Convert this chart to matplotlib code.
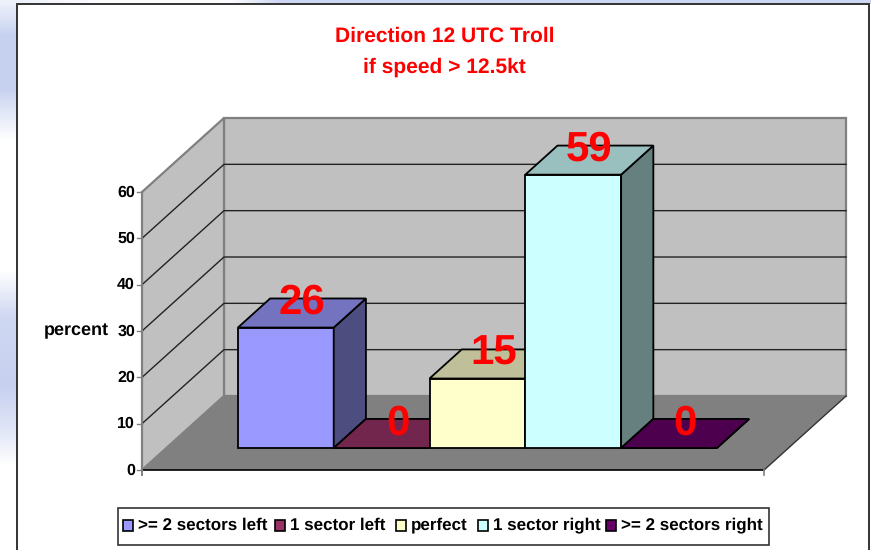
import numpy as np
import matplotlib
matplotlib.use("Agg")
import matplotlib.pyplot as plt
from matplotlib.patches import Polygon, Rectangle

plt.rcParams['font.family'] = ['Liberation Sans', 'DejaVu Sans']
plt.rcParams['text.hinting'] = 'no_hinting'
plt.rcParams['text.hinting_factor'] = 1

categories = [">= 2 sectors left", "1 sector left", "perfect", "1 sector right", ">= 2 sectors right"]
values = [26, 0, 15, 59, 0]
colors = ["#9999ff", "#993366", "#ffffcc", "#ccffff", "#660066"]
yticks = [0, 10, 20, 30, 40, 50, 60]
title_lines = ["Direction 12 UTC Troll", "if speed > 12.5kt"]

W, H = 871, 550
fig = plt.figure(figsize=(W/100, H/100), dpi=100)
ax = fig.add_axes([0, 0, 1, 1])
ax.axis("off")

# backdrop
bg = np.ones((H, W, 3))
blue = np.array([0.78, 0.82, 0.94])
stops_y = [0, 12, 35, 88, 115, 140, 270, 316, 386, 425, 465, 550]
stops_b = [0.3, 0.5, 1.0, 1.0, 0.45, 0.0, 0.0, 0.85, 1.0, 0.6, 0.0, 0.0]
left = np.interp(np.arange(H), stops_y, stops_b)
for i in range(H):
    bg[i, :17] = 1 - (1 - blue) * left[i]
top = np.interp(np.arange(W), [0, 17, 100, 230, 280, 871], [0.3, 0.3, 0.05, 0.05, 0.9, 0.9])
for j in range(W):
    bg[:4, j] = 1 - (1 - blue) * top[j]
ax.imshow(bg, extent=(0, W, H, 0), aspect="auto", zorder=0)
ax.set_xlim(0, W); ax.set_ylim(H, 0)
ax.add_patch(Rectangle((17, 4), 852, 560, fc="white", ec="#333333", lw=1.4, zorder=1))

# projection: x in category units, y in percent, d depth fraction
X0, Y0 = 142.0, 470.0
SX = 95.8
SY = 278.0 / 60
DX, DY = 82.0, -74.0
GAP = 0.747
NC = len(categories)
def P(x, y, d):
    return (X0 + (x + GAP) * SX + d * DX, Y0 - y * SY + d * DY)

YMAX = yticks[-1]
XL, XR = -GAP, NC + GAP

ax.add_patch(Polygon([P(XL,0,1), P(XR,0,1), P(XR,YMAX,1), P(XL,YMAX,1)], fc="#c0c0c0", ec="#808080", lw=1.6, zorder=2))
ax.add_patch(Polygon([P(XL,0,0), P(XL,0,1), P(XL,YMAX,1), P(XL,YMAX,0)], fc="#c0c0c0", ec="#808080", lw=1.6, zorder=2))
ax.add_patch(Polygon([P(XL,0,0), P(XR,0,0), P(XR,0,1), P(XL,0,1)], fc="#808080", ec="none", zorder=3))
for t in yticks[1:-1]:
    a, b, c = P(XL,t,0), P(XL,t,1), P(XR,t,1)
    ax.plot([a[0], b[0], c[0]], [a[1], b[1], c[1]], color="#222222", lw=1.0, zorder=3)
a, b = P(XL,0,0), P(XR,0,0)
ax.plot([a[0], b[0]], [a[1], b[1]], color="black", lw=1.2, zorder=4)
c = P(XR,0,1)
ax.plot([b[0], c[0]], [b[1], c[1]], color="#333333", lw=1.0, zorder=4)
ax.plot([a[0], a[0]], [a[1]+5, P(XL,YMAX,0)[1]], color="#808080", lw=1.4, zorder=4)
ax.plot([b[0], b[0]], [b[1], b[1]+5], color="#808080", lw=1.2, zorder=4)

for t in yticks:
    p = P(XL, t, 0)
    ax.plot([p[0]-5, p[0]], [p[1], p[1]], color="#808080", lw=1.0, zorder=4)
    ax.text(p[0]-7, p[1]+0.5, str(t), ha="right", va="center", fontsize=11.6, fontweight="bold", color="black", zorder=6)
ax.text(76, 330.5, "percent", ha="center", va="center", fontsize=12.8, fontweight="bold", color="black", zorder=6)

def shade(col, f):
    r = np.array(matplotlib.colors.to_rgb(col)) * f
    return tuple(r)

D0, D1 = 0.297, 0.69
for i, (v, col) in enumerate(zip(values, colors)):
    kw = dict(ec="black", lw=1.3, joinstyle="miter", zorder=5)
    ax.add_patch(Polygon([P(i,0,D0), P(i+1,0,D0), P(i+1,v,D0), P(i,v,D0)], fc=col, **kw))
    ax.add_patch(Polygon([P(i+1,0,D0), P(i+1,0,D1), P(i+1,v,D1), P(i+1,v,D0)], fc=shade(col,0.5), **kw))
    ax.add_patch(Polygon([P(i,v,D0), P(i+1,v,D0), P(i+1,v,D1), P(i,v,D1)], fc=shade(col,0.75), **kw))
for i, v in enumerate(values):
    p = P(i+0.5, v, (D0+D1)/2)
    ax.text(p[0], p[1]-10, str(v), ha="center", va="center", fontsize=30, fontweight="bold", color="#ff0000", zorder=7)

for line, y in zip(title_lines, [36, 67]):
    ax.text(444.5, y, line, ha="center", va="center", fontsize=15.4, fontweight="bold", color="#ff0000", zorder=6)

# legend
ax.add_patch(Rectangle((118, 508), 651, 37, fc="white", ec="#333333", lw=1.2, zorder=5))
swatch_x = [123, 275, 396, 478, 606]
for sx, name, col in zip(swatch_x, categories, colors):
    ax.add_patch(Rectangle((sx, 520), 10, 11, fc=col, ec="black", lw=1.2, zorder=6))
    ax.text(sx+15, 525.5, name, ha="left", va="center", fontsize=12.1, fontweight="bold", color="black", zorder=6)

fig.savefig("out.png", dpi=100)
